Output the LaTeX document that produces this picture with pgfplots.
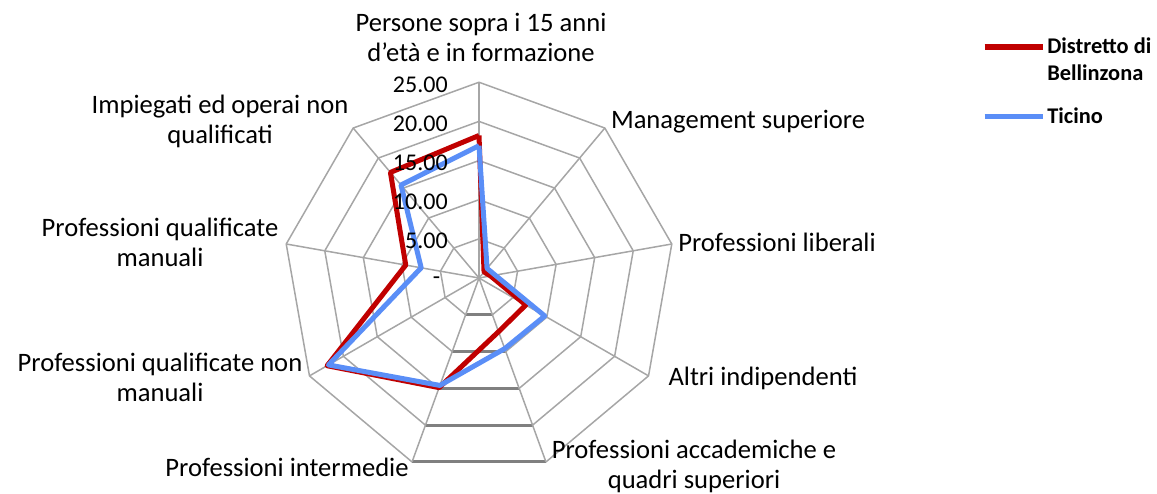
\documentclass[border=0pt]{standalone}
\usepackage{fontspec}
\setmainfont{Carlito}
\usepackage{pgfplots}
\usepackage{pgfplotstable}
\pgfplotsset{compat=1.18}
\definecolor{redser}{HTML}{C00000}
\definecolor{blueser}{HTML}{5A8EF7}
\definecolor{gridgray}{HTML}{A6A6A6}
\definecolor{botgray}{HTML}{808080}
\newcommand\catfont{\fontsize{13.3}{15}\selectfont}
\newcommand\tickfont{\fontsize{12}{14}\selectfont}

\pgfplotstableread{
a red blue
0 18.2 16.9
40 1.0 1.6
80 1.5 2.1
120 6.9 9.7
160 7.3 9.6
200 14.9 14.6
240 22.4 22.2
280 9.5 7.5
320 17.6 15.5
360 18.2 16.9
}\radar

\begin{document}
\begin{tikzpicture}
\begin{axis}[
  scale only axis, width=578.5pt, height=246.5pt,
  xmin=-61.175, xmax=86.59, ymin=-27.458, ymax=35.504,
  hide axis, clip=false,
  legend style={draw=none, fill=none, at={(axis cs:64.2,31.0)}, anchor=north west,
    font=\fontsize{11.2}{13.5}\selectfont\bfseries, row sep=10pt, inner sep=0pt,
    nodes={inner sep=1pt, align=left}},
  legend cell align=left,
  legend image code/.code={\draw[#1, line width=2.6pt] (0pt,0pt) -- (29pt,0pt);},
]
% rings
\pgfplotsinvokeforeach{5,10,15,20,25}{
  \addplot[gridgray, line width=0.75pt, forget plot] table[x expr={#1*sin(\thisrow{a})}, y expr={#1*cos(\thisrow{a})}] {\radar};
  \draw[botgray, line width=1.5pt] (axis cs:{#1*sin(160)},{#1*cos(160)}) -- (axis cs:{#1*sin(200)},{#1*cos(200)});
}
% spokes
\pgfplotsinvokeforeach{0,40,80,120,160,200,240,280,320}{
  \draw[gridgray, line width=0.75pt] (axis cs:0,0) -- (axis cs:{25*sin(#1)},{25*cos(#1)});
}
% data
\addplot[redser, line width=2.5pt, line join=round,
  legend image code/.code={\path[draw=none, fill=none] (0pt,-6.75pt) rectangle (29pt,6.75pt); \draw[redser, line width=2.6pt] (0pt,6.75pt) -- (29pt,6.75pt);}]
  table[x expr={\thisrow{red}*sin(\thisrow{a})}, y expr={\thisrow{red}*cos(\thisrow{a})}] {\radar};
\addlegendentry{Distretto di\\Bellinzona}
\addplot[blueser, line width=2.5pt, line join=round] table[x expr={\thisrow{blue}*sin(\thisrow{a})}, y expr={\thisrow{blue}*cos(\thisrow{a})}] {\radar};
\addlegendentry{Ticino}
% tick labels
\node[anchor=east, font=\tickfont, inner sep=0pt] at (axis cs:-3.95,24.7) {25.00};
\node[anchor=east, font=\tickfont, inner sep=0pt] at (axis cs:-3.95,19.7) {20.00};
\node[anchor=east, font=\tickfont, inner sep=0pt] at (axis cs:-3.95,14.7) {15.00};
\node[anchor=east, font=\tickfont, inner sep=0pt] at (axis cs:-3.95,9.7) {10.00};
\node[anchor=east, font=\tickfont, inner sep=0pt] at (axis cs:-3.95,4.7) {5.00};
\node[anchor=east, font=\tickfont, inner sep=0pt] at (axis cs:-4.9,-0.3) {-};
% category labels
\node[font=\catfont, align=center] at (axis cs:0.26,30.78) {Persone sopra i 15 anni\\d'età e in formazione};
\node[font=\catfont, align=center] at (axis cs:33.08,19.92) {Management superiore};
\node[font=\catfont, align=center] at (axis cs:38.06,4.6) {Professioni liberali};
\node[font=\catfont, align=center] at (axis cs:36.27,-12.77) {Altri indipendenti};
\node[font=\catfont, align=center] at (axis cs:27.46,-24.01) {Professioni accademiche e\\quadri superiori};
\node[font=\catfont, align=center] at (axis cs:-24.52,-24.14) {Professioni intermedie};
\node[font=\catfont, align=center] at (axis cs:-40.74,-12.64) {Professioni qualificate non\\manuali};
\node[font=\catfont, align=center] at (axis cs:-40.74,4.6) {Professioni qualificate\\manuali};
\node[font=\catfont, align=center] at (axis cs:-33.08,20.05) {Impiegati ed operai non\\qualificati};
\end{axis}
\pgfresetboundingbox
\useasboundingbox (current axis.south west) rectangle (current axis.north east);
\end{tikzpicture}
\end{document}
